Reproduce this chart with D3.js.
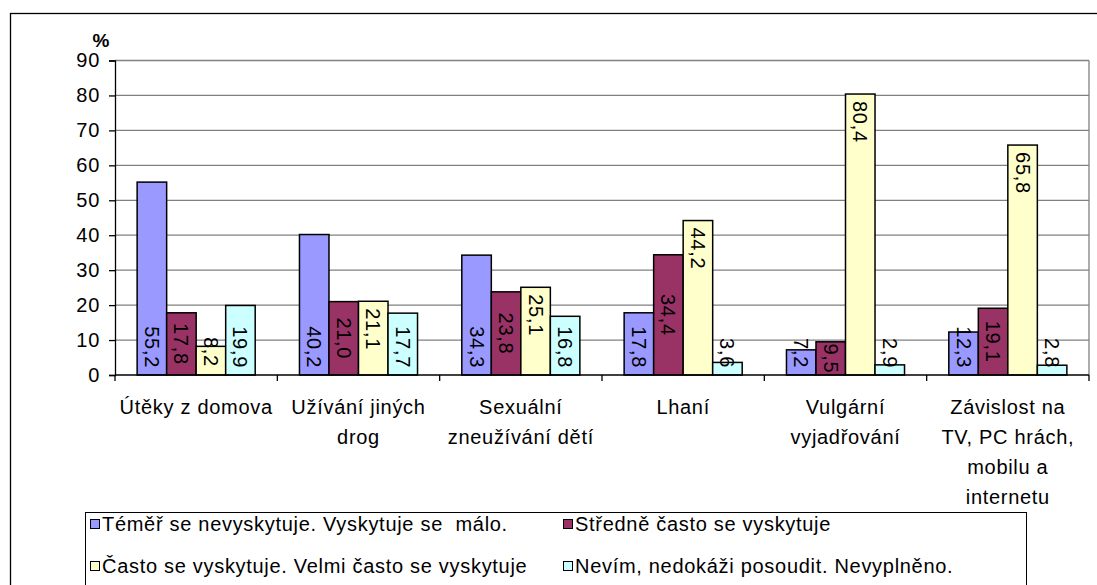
<!DOCTYPE html>
<html>
<head>
<meta charset="utf-8">
<script src="https://cdn.jsdelivr.net/npm/d3@7"></script>
<style>
  body { margin: 0; background: #fff; }
  text { font-family: "Liberation Sans", Arial, sans-serif; }
</style>
</head>
<body>
<div id="chart"></div>
<script>
const categories = [
    ['Útěky z domova'],
    ['Užívání jiných', 'drog'],
    ['Sexuální', 'zneužívání dětí'],
    ['Lhaní'],
    ['Vulgární', 'vyjadřování'],
    ['Závislost na', 'TV, PC hrách,', 'mobilu a', 'internetu']
];
const seriesNames = [
    'Téměř se nevyskytuje. Vyskytuje se  málo.',
    'Středně často se vyskytuje',
    'Často se vyskytuje. Velmi často se vyskytuje',
    'Nevím, nedokáži posoudit. Nevyplněno.'
];
const seriesColors = ['#9999ff', '#993366', '#ffffcc', '#ccffff'];
const valuesLow = [55.2, 40.2, 34.3, 17.8, 7.2, 12.3];
const valuesMid = [17.8, 21.0, 23.8, 34.4, 9.5, 19.1];
const valuesHigh = [8.2, 21.1, 25.1, 44.2, 80.4, 65.8];
const valuesUnknown = [19.9, 17.7, 16.8, 3.6, 2.9, 2.8];
const yTicks = [0, 10, 20, 30, 40, 50, 60, 70, 80, 90];

const series = [valuesLow, valuesMid, valuesHigh, valuesUnknown];
const width = 1097, height = 585;
const plot = { left: 115, right: 1089, top: 60.5, bottom: 375 };
const fontSize = 20, spacing = '0.7px';

const svg = d3.select('#chart')
    .append('svg')
    .attr('width', width)
    .attr('height', height);

// chart area border (runs past the right and bottom edges)
svg.append('rect')
    .attr('x', 10.5).attr('y', 13.5)
    .attr('width', 1100).attr('height', 600)
    .style('fill', 'none')
    .style('stroke', '#000')
    .style('stroke-width', 1.3);

const x0 = d3.scaleBand()
    .domain(d3.range(categories.length))
    .range([plot.left, plot.right]);

const step = x0.bandwidth();
const barW = step / 5.5;
const x1 = d3.scaleBand()
    .domain(d3.range(series.length))
    .range([barW * 0.75, step - barW * 0.75]);

const y = d3.scaleLinear()
    .domain([0, 90])
    .range([plot.bottom, plot.top]);

// gridlines
svg.append('g')
    .selectAll('line')
    .data(yTicks.slice(1))
    .enter()
    .append('line')
    .attr('x1', plot.left).attr('x2', plot.right)
    .attr('y1', d => y(d)).attr('y2', d => y(d))
    .style('stroke', '#808080')
    .style('stroke-width', 1.3);

svg.append('line')
    .attr('x1', plot.right).attr('x2', plot.right)
    .attr('y1', y(90)).attr('y2', y(0))
    .style('stroke', '#808080')
    .style('stroke-width', 1.3);

// bars
const groups = svg.append('g')
    .selectAll('g')
    .data(series)
    .enter()
    .append('g')
    .attr('fill', (d, i) => seriesColors[i]);

groups.selectAll('rect')
    .data((vals, s) => vals.map((v, c) => ({ v, c, s })))
    .enter()
    .append('rect')
    .attr('x', d => x0(d.c) + x1(d.s))
    .attr('y', d => y(d.v))
    .attr('width', x1.bandwidth())
    .attr('height', d => y(0) - y(d.v))
    .style('stroke', '#000')
    .style('stroke-width', 1.5);

// value labels, rotated to read downwards
function labelPos(d) {
    const top = y(d.v), base = y(0);
    if (d.s === 1) return { py: (top + base) / 2, anchor: 'middle' };
    if (d.s === 2) return { py: Math.min(top + 7, base - 38), anchor: 'start' };
    return { py: base - 7, anchor: 'end' };
}

groups.selectAll('text')
    .data((vals, s) => vals.map((v, c) => ({ v, c, s })))
    .enter()
    .append('text')
    .attr('transform', d => {
        const cx = x0(d.c) + x1(d.s) + x1.bandwidth() / 2;
        return 'translate(' + cx + ',' + labelPos(d).py + ') rotate(90)';
    })
    .attr('text-anchor', d => labelPos(d).anchor)
    .attr('dy', '0.35em')
    .style('fill', '#000')
    .style('font-size', fontSize + 'px')
    .style('letter-spacing', spacing)
    .text(d => d.v.toFixed(1).replace('.', ','));

// y axis
const yAxis = svg.append('g')
    .attr('transform', 'translate(' + plot.left + ',0)')
    .call(d3.axisLeft(y).tickValues(yTicks).tickSize(6).tickPadding(9));
yAxis.select('.domain').style('stroke', '#000').style('stroke-width', 1.3);
yAxis.selectAll('.tick line').style('stroke', '#000').style('stroke-width', 1.3);
yAxis.selectAll('text')
    .style('font-size', fontSize + 'px')
    .style('letter-spacing', spacing)
    .style('font-family', '"Liberation Sans", Arial, sans-serif')
    .style('fill', '#000');

svg.append('text')
    .attr('x', 101).attr('y', 47)
    .attr('text-anchor', 'middle')
    .style('font-size', '19px')
    .style('font-weight', 'bold')
    .text('%');

// x axis
svg.append('line')
    .attr('x1', plot.left).attr('x2', plot.right)
    .attr('y1', y(0)).attr('y2', y(0))
    .style('stroke', '#000')
    .style('stroke-width', 1.3);

svg.append('g')
    .selectAll('line')
    .data(d3.range(categories.length + 1))
    .enter()
    .append('line')
    .attr('x1', d => plot.left + d * step).attr('x2', d => plot.left + d * step)
    .attr('y1', y(0)).attr('y2', y(0) + 6)
    .style('stroke', '#000')
    .style('stroke-width', 1.3);

const catLabels = svg.append('g')
    .selectAll('text')
    .data(categories)
    .enter()
    .append('text')
    .attr('text-anchor', 'middle')
    .style('font-size', fontSize + 'px')
    .style('letter-spacing', spacing);

catLabels.selectAll('tspan')
    .data((lines, c) => lines.map((t, i) => ({ t, i, c })))
    .enter()
    .append('tspan')
    .attr('x', d => x0(d.c) + step / 2)
    .attr('y', d => 414 + d.i * 30)
    .text(d => d.t);

// legend
const legend = svg.append('g');
legend.append('rect')
    .attr('x', 85.5).attr('y', 512.5)
    .attr('width', 941).attr('height', 100)
    .style('fill', '#fff')
    .style('stroke', '#000')
    .style('stroke-width', 1);

const legendPos = [[90, 524], [563, 524], [90, 566], [563, 566]];
const items = legend.selectAll('g.item')
    .data(seriesNames)
    .enter()
    .append('g')
    .attr('class', 'item')
    .attr('transform', (d, i) => 'translate(' + legendPos[i][0] + ',' + legendPos[i][1] + ')');

items.append('rect')
    .attr('x', 0.5).attr('y', -4.5)
    .attr('width', 9).attr('height', 9)
    .style('fill', (d, i) => seriesColors[i])
    .style('stroke', '#000')
    .style('stroke-width', 1);

items.append('text')
    .attr('x', 12).attr('y', 7)
    .style('font-size', fontSize + 'px')
    .style('letter-spacing', spacing)
    .style('white-space', 'pre')
    .text(d => d);
</script>
</body>
</html>
